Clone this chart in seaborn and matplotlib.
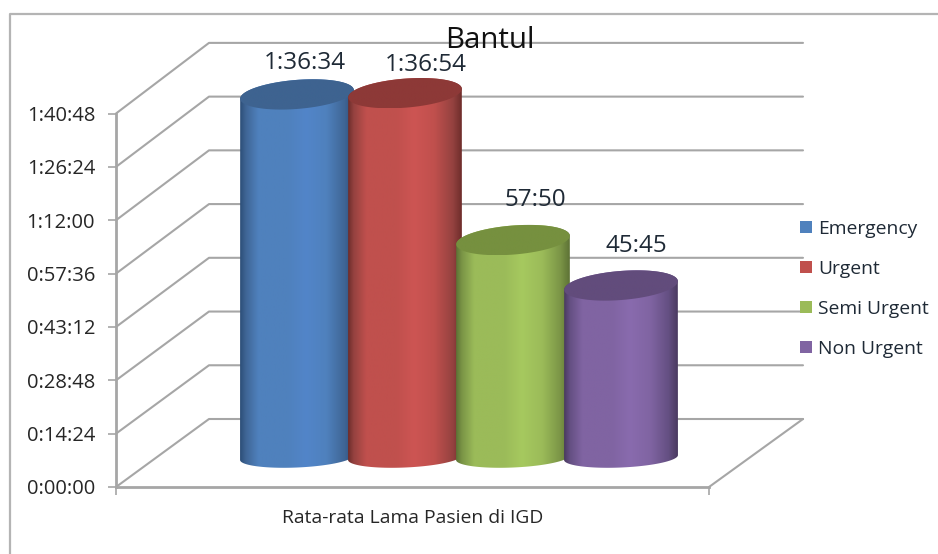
"""
Bantul: rata-rata lama pasien di IGD, 3D style cylinder chart
"""
import numpy as np
import pandas as pd
import matplotlib
matplotlib.use("Agg")
import matplotlib.pyplot as plt
from matplotlib.colors import LinearSegmentedColormap
from matplotlib.lines import Line2D
from matplotlib.patches import Polygon
import seaborn as sns

category = ["Rata-rata Lama Pasien di IGD"]
series = ["Emergency", "Urgent", "Semi Urgent", "Non Urgent"]
durations = [5794, 5814, 3470, 2745]  # seconds
value_labels = ["1:36:34", "1:36:54", "57:50", "45:45"]
tick_values = [0, 864, 1728, 2592, 3456, 4320, 5184, 6048]
tick_labels = ["0:00:00", "0:14:24", "0:28:48", "0:43:12",
               "0:57:36", "1:12:00", "1:26:24", "1:40:48"]

base_colors = ["#4f81bd", "#c0504d", "#9bbb59", "#8064a2"]
light_colors = ["#5285c9", "#cd5553", "#a6c95f", "#896bae"]
shade_colors = ["#3f6595", "#954240", "#7a9446", "#644f82"]
dark_colors = ["#2c4e78", "#6e2d2b", "#5d7235", "#4a3a60"]
top_colors = ["#3e6390", "#8d3937", "#76903f", "#624c7c"]

W, H = 938, 554
GREY = "#a6a6a6"

sns.set_theme(style="white")
plt.rcParams["font.family"] = ["Open Sans", "DejaVu Sans"]
plt.rcParams["text.color"] = "#1f2a36"


def px_rect(left, right, top, bottom):
    # pixel box (from top left of the image) to figure fractions
    return [left / W, 1 - bottom / H, (right - left) / W, (bottom - top) / H]


def tilted_ellipse(cx, cy, sx, sy, b, tilt_deg, start=0.0, stop=2 * np.pi):
    # returns points in data units, cx/cy in data units, sx/sy = data per pixel
    a, tilt = 57.0, np.radians(tilt_deg)
    t = np.linspace(start, stop, 80)
    dx = a * np.cos(t) * np.cos(tilt) - b * np.sin(t) * np.sin(tilt)
    dy = a * np.cos(t) * np.sin(tilt) + b * np.sin(t) * np.cos(tilt)
    return np.column_stack([cx + dx * sx, cy + dy * sy])


def gradient(ax, poly, cmap, zorder):
    xy = poly.get_xy()
    im = ax.imshow(np.linspace(0, 1, 256).reshape(1, -1), cmap=cmap, aspect="auto",
                   extent=(xy[:, 0].min(), xy[:, 0].max(), xy[:, 1].min(), xy[:, 1].max()),
                   zorder=zorder, interpolation="bilinear")
    poly.set_transform(ax.transData)
    im.set_clip_path(poly)


fig = plt.figure(figsize=(W / 100, H / 100), dpi=100, facecolor="white")

# outer chart border
fig.add_artist(Line2D([10 / W, 10 / W, 1], [0, 1 - 14 / H, 1 - 14 / H], color="#b4b4b4", lw=1.6))

# front axis, real scale of the chart
ax = fig.add_axes(px_rect(116, 709, 113.5, 487))
ax.patch.set_visible(False)
ax.set_xlim(0, 1)
ax.set_ylim(0, 6048)
ax.set_yticks(tick_values)
ax.set_yticklabels(tick_labels, fontsize=14.5)
ax.set_xticks([0, 1])
ax.set_xticklabels(["", ""])
ax.set_xticks([0.5], category, minor=True, fontsize=13.9)
ax.tick_params(axis="y", left=True, length=6, width=1.2, color=GREY, pad=9)
ax.tick_params(axis="x", which="major", bottom=True, length=6, width=1.2, color=GREY)
ax.tick_params(axis="x", which="minor", bottom=False, length=0, pad=15.5)
sns.despine(ax=ax)
for side in ["left", "bottom"]:
    ax.spines[side].set_color(GREY)
    ax.spines[side].set_linewidth(2)

# walls and floor, pushed back 93 px to the right and 68 px up
depth_x = 93 / 593
depth_y = 68 * 6048 / 373.5
back_end = (803 - 116) / 593
for v in tick_values:
    ax.plot([0, depth_x, back_end], [v, v * 1.007 + depth_y, v * 1.007 + depth_y],
            color=GREY, lw=1.5, clip_on=False, zorder=1)
ax.plot([1, back_end], [0, depth_y], color=GREY, lw=1.5, clip_on=False, zorder=1)

# bars sit on their own axes, lifted off the front edge of the floor
base_y = 457.5
sec_px = 379 / 6048
y_low, y_high = -800, 6400
ax_bars = fig.add_axes(px_rect(189, 729, base_y - y_high * sec_px, base_y - y_low * sec_px))
ax_bars.patch.set_visible(False)

df = pd.DataFrame({"category": category * len(series), "series": series, "duration": durations})
sns.barplot(data=df, x="category", y="duration", hue="series", hue_order=series,
            palette=base_colors, saturation=1, width=0.8, gap=-0.05, ax=ax_bars)
ax_bars.set_xlim(-0.5, 0.5)
ax_bars.set_ylim(y_low, y_high)

sx = 1 / 540
sy = 1 / sec_px
label_lift = [31.5, 28.5, 40, 39.5]
label_shift = [8, 21, 22, 15]
for i, container in enumerate(ax_bars.containers):
    bar = container[0]
    bar.set_visible(False)
    cx = bar.get_x() + bar.get_width() / 2
    top = bar.get_height()
    z = 3 + i * 2

    lower = tilted_ellipse(cx, 0, sx, sy, 10.0, 2.5, np.pi, 2 * np.pi)
    upper = tilted_ellipse(cx, top, sx, sy, 14.5, 4.6, 0, np.pi)
    body = Polygon(np.vstack([lower, upper]), closed=True, facecolor="none", edgecolor="none")
    body_cmap = LinearSegmentedColormap.from_list("body", [
        (0, dark_colors[i]), (0.05, shade_colors[i]), (0.16, base_colors[i]), (0.42, base_colors[i]),
        (0.58, light_colors[i]), (0.76, base_colors[i]), (0.92, shade_colors[i]), (1, dark_colors[i])])
    gradient(ax_bars, body, body_cmap, z)

    lid = Polygon(tilted_ellipse(cx, top, sx, sy, 14.5, 4.6), closed=True, facecolor="none", edgecolor="none")
    lid_cmap = LinearSegmentedColormap.from_list("lid", [top_colors[i], top_colors[i]])
    gradient(ax_bars, lid, lid_cmap, z + 1)

    ax_bars.annotate(value_labels[i], (cx, top), xytext=(label_shift[i] * 0.72, label_lift[i] * 0.72),
                     textcoords="offset points", ha="center", va="center",
                     fontsize=17.5, zorder=20, annotation_clip=False)

ax_bars.set_xlim(-0.5, 0.5)
ax_bars.set_ylim(y_low, y_high)
ax_bars.axis("off")

sns.move_legend(ax_bars, loc="center left", bbox_to_anchor=(800 / W, 1 - 289 / H),
                bbox_transform=fig.transFigure, title=None, frameon=False,
                handlelength=0.62, handleheight=0.62, handletextpad=0.31,
                labelspacing=1.14, fontsize=13.9, borderpad=0, borderaxespad=0)
for handle in ax_bars.get_legend().legend_handles:
    handle.set_edgecolor("none")
    handle.set_linewidth(0)

fig.text(490 / W, 1 - 40 / H, "Bantul", ha="center", va="center", fontsize=21.2, color="#111111")

fig.savefig("out.png", dpi=100)
